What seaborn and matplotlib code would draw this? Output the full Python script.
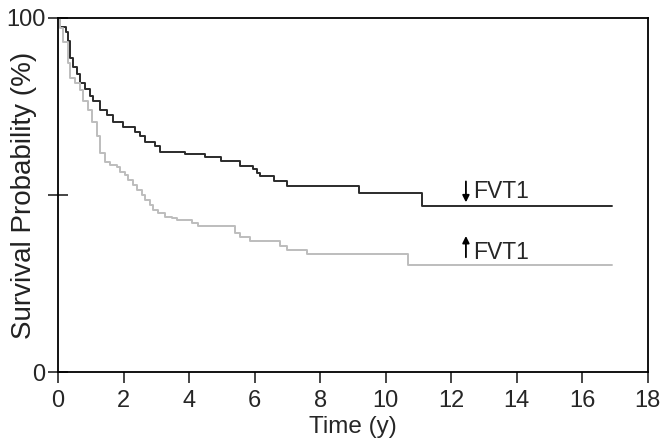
"""
Kaplan-Meier style survival curves, low vs high FVT1
"""
import matplotlib
matplotlib.use('Agg')
import matplotlib.pyplot as plt
import numpy as np
import pandas as pd
import seaborn as sns

# step times (years) and survival (%) after each drop
low_time = [0, 0.05, 0.25, 0.32, 0.38, 0.47, 0.57, 0.67, 0.82, 0.98, 1.07, 1.28, 1.49,
            1.68, 1.98, 2.35, 2.50, 2.65, 2.96, 3.11, 3.87, 4.48, 4.99, 5.57, 5.95,
            6.07, 6.18, 6.59, 6.98, 9.18, 11.10, 16.9]
low_surv = [100, 97.5, 96, 93.5, 88.7, 86, 84, 81.6, 80, 78, 76.4, 74, 72.6,
            70.7, 69.3, 67.9, 66.5, 65, 63.7, 62.2, 61.6, 60.6, 59.7, 58.3, 57.3,
            56.3, 55.2, 54, 52.6, 50.5, 47, 47]

high_time = [0, 0.05, 0.16, 0.31, 0.37, 0.52, 0.67, 0.77, 0.92, 1.03, 1.18, 1.28, 1.43,
             1.59, 1.79, 1.89, 2.04, 2.14, 2.30, 2.40, 2.55, 2.65, 2.81, 2.91, 3.06,
             3.26, 3.47, 3.62, 4.08, 4.28, 5.40, 5.55, 5.86, 6.77, 6.98, 7.59, 10.69, 16.9]
high_surv = [100, 97, 93.3, 87.2, 83, 81.5, 79.7, 76.4, 74, 70.7, 66.5, 61.8, 59.4,
             58.5, 58, 56.6, 55.6, 54.2, 52.8, 51.4, 50, 48.6, 47.2, 45.8, 44.8,
             43.9, 43.4, 42.9, 42, 41.2, 39.3, 38.2, 37.1, 35.6, 34.5, 33.3, 30.2, 30.2]

x_ticks = [0, 2, 4, 6, 8, 10, 12, 14, 16, 18]
y_ticks = [0, 50, 100]
y_labels = ['0', '', '100']

sns.set_style('ticks')
plt.rcParams['font.family'] = ['Liberation Sans', 'DejaVu Sans']

df = pd.concat([
    pd.DataFrame({'time': low_time, 'surv': low_surv, 'group': 'low'}),
    pd.DataFrame({'time': high_time, 'surv': high_surv, 'group': 'high'}),
])

fig = plt.figure(figsize=(6.71, 4.45), dpi=100)
ax = fig.add_axes([0.0864, 0.164, 0.879, 0.796])

sns.lineplot(data=df, x='time', y='surv', hue='group', estimator=None,
             palette={'low': '#2b2b2b', 'high': '#bdbdbd'}, drawstyle='steps-post',
             linewidth=1.4, legend=False, ax=ax)

ax.set_xlim(0, 18)
ax.set_ylim(0, 100)
ax.set_xticks(x_ticks)
ax.set_yticks(y_ticks)
ax.set_yticklabels(y_labels)
ax.tick_params(axis='x', direction='out', length=8, width=1.2, labelsize=17, pad=5)
ax.tick_params(axis='y', direction='inout', length=14, width=1.2, labelsize=17, pad=2)
for s in ax.spines.values():
    s.set_linewidth(1.3)
    s.set_color('black')

ax.set_xlabel('Time (y)', fontsize=17.5, labelpad=3)
ax.set_ylabel('Survival Probability (%)', fontsize=20, color='#222222')
ax.yaxis.set_label_coords(-0.035, 0.5)

# group labels with arrows
ax.annotate('', xy=(12.45, 47.9), xytext=(12.45, 53.8),
            arrowprops=dict(arrowstyle='-|>', color='black', lw=1.3, mutation_scale=10,
                            shrinkA=0, shrinkB=0))
ax.text(12.67, 49, 'FVT1', fontsize=16.5, va='baseline', ha='left')
ax.annotate('', xy=(12.45, 38.4), xytext=(12.45, 32.4),
            arrowprops=dict(arrowstyle='-|>', color='black', lw=1.3, mutation_scale=10,
                            shrinkA=0, shrinkB=0))
ax.text(12.67, 31.9, 'FVT1', fontsize=16.5, va='baseline', ha='left')

fig.savefig('out.png', dpi=100)
